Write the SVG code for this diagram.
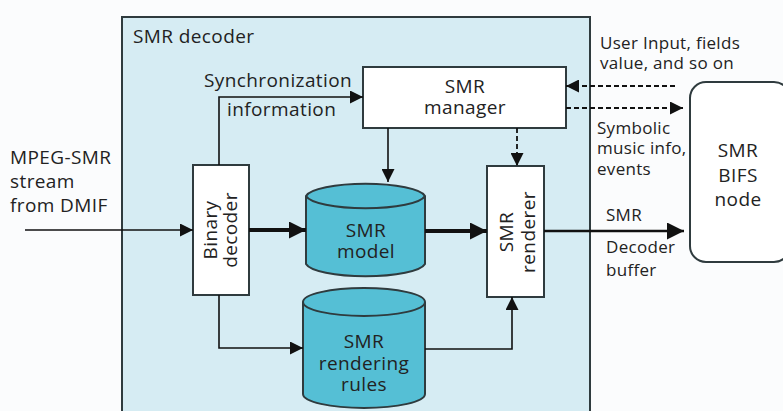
<svg xmlns="http://www.w3.org/2000/svg" width="783" height="411" viewBox="0 0 783 411">
<defs>
<style>
text{font-family:"Open Sans","Noto Sans",sans-serif;font-size:19px;letter-spacing:0.4px;fill:#222}
.s{font-size:17px;letter-spacing:0.3px}
.box{fill:#fff;stroke:#2f3b3e;stroke-width:2}
.cyl{fill:#55bfd5;stroke:#2f3b3e;stroke-width:2}
.ln{fill:none;stroke:#111;stroke-width:1.6}
.thick{fill:none;stroke:#111;stroke-width:4}
.dash{fill:none;stroke:#111;stroke-width:1.8;stroke-dasharray:5,3}
.c{text-anchor:middle}
</style>
<marker id="a2" viewBox="0 0 10 10" refX="10" refY="5" markerWidth="13" markerHeight="13" markerUnits="userSpaceOnUse" orient="auto"><path d="M0,0L10,5L0,10z" fill="#111"/></marker>
<marker id="a3" viewBox="0 0 10 10" refX="10" refY="5" markerWidth="17" markerHeight="17" markerUnits="userSpaceOnUse" orient="auto"><path d="M0,0L10,5L0,10z" fill="#111"/></marker>
</defs>
<rect width="783" height="411" fill="#fbfcfd"/>
<g id="decoder">
<rect x="122" y="17" width="468" height="400" fill="#d6ecf3" stroke="#2f3b3e" stroke-width="2"/>
<text x="133" y="43">SMR decoder</text>
</g>
<g id="input-label">
<text x="10" y="164">MPEG-SMR</text>
<text x="10" y="188">stream</text>
<text x="10" y="212">from DMIF</text>
</g>
<g id="manager">
<rect class="box" x="363" y="67" width="203" height="61"/>
<text class="c" x="465" y="93">SMR</text>
<text class="c" x="465" y="114">manager</text>
</g>
<g id="binary">
<rect class="box" x="193" y="165" width="56" height="130"/>
<text class="c" transform="translate(221,230) rotate(-90)" y="-4">Binary</text>
<text class="c" transform="translate(221,230) rotate(-90)" y="16">decoder</text>
</g>
<g id="model">
<path class="cyl" d="M306,196 A60,14 0 0 1 425,196 L425,264 A60,14 0 0 1 306,264 Z"/>
<path class="cyl" d="M306,196 A60,14 0 0 0 425,196"/>
<text class="c" x="366" y="237">SMR</text>
<text class="c" x="366" y="258">model</text>
</g>
<g id="rules">
<path class="cyl" d="M303,302 A61,14 0 0 1 425,302 L425,394 A61,14 0 0 1 303,394 Z"/>
<path class="cyl" d="M303,302 A61,14 0 0 0 425,302"/>
<text class="c" x="364" y="348">SMR</text>
<text class="c" x="364" y="370">rendering</text>
<text class="c" x="364" y="391">rules</text>
</g>
<g id="renderer">
<rect class="box" x="487" y="166" width="57" height="131"/>
<text class="c" transform="translate(515,232) rotate(-90)" y="-2">SMR</text>
<text class="c" transform="translate(515,232) rotate(-90)" y="20">renderer</text>
</g>
<g id="bifs">
<rect class="box" x="690" y="82" width="100" height="180" rx="16"/>
<text class="c" x="738" y="157">SMR</text>
<text class="c" x="738" y="182">BIFS</text>
<text class="c" x="738" y="206">node</text>
</g>
<g id="labels">
<text x="204" y="87">Synchronization</text>
<text x="227" y="116">information</text>
<text class="s" x="600" y="49">User Input, fields</text>
<text class="s" x="600" y="69">value, and so on</text>
<text class="s" x="597" y="134">Symbolic</text>
<text class="s" x="597" y="154">music info,</text>
<text class="s" x="597" y="175">events</text>
<text class="s" x="606" y="221">SMR</text>
<text class="s" x="606" y="253">Decoder</text>
<text class="s" x="606" y="276">buffer</text>
</g>
<g id="connectors">
<path class="ln" d="M25,230H193" marker-end="url(#a2)"/>
<path class="ln" d="M219,165V97H363" marker-end="url(#a2)"/>
<path class="thick" d="M249,230H306" marker-end="url(#a3)"/>
<path class="ln" d="M219,295V348H303" marker-end="url(#a2)"/>
<path class="thick" d="M425,231H487" marker-end="url(#a3)"/>
<path class="ln" d="M425,349H512V297" marker-end="url(#a2)"/>
<path class="ln" d="M388,128V182" marker-end="url(#a2)"/>
<path class="dash" d="M517,128V166" marker-end="url(#a2)"/>
<path class="ln" d="M544,231H684" style="stroke-width:2.6" marker-end="url(#a3)"/>
<path class="dash" d="M675,86H566" marker-end="url(#a2)"/>
<path class="dash" d="M566,108H683" marker-end="url(#a2)"/>
</g>
</svg>
